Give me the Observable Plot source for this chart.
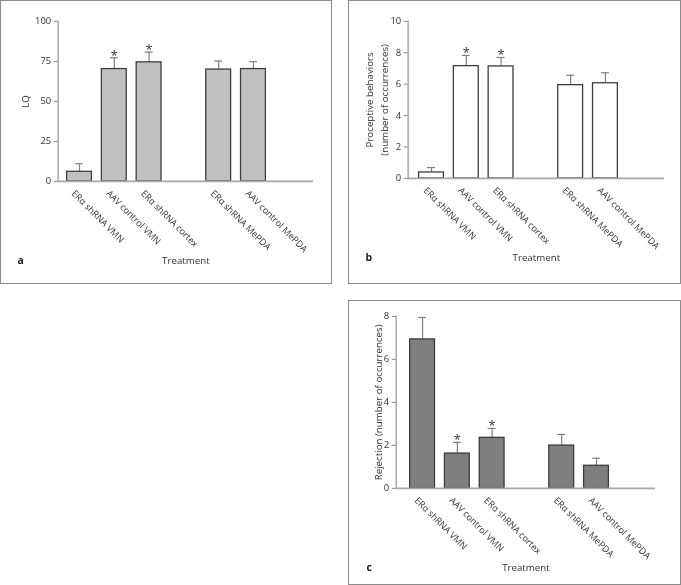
<!DOCTYPE html>
<html><head><meta charset="utf-8">
<script src="https://cdn.jsdelivr.net/npm/d3@7"></script>
<script src="https://cdn.jsdelivr.net/npm/@observablehq/plot@0.6"></script>
<style>
body{margin:0;background:#fff;font-family:"Open Sans",sans-serif;}
#root{position:relative;width:681px;height:585px;overflow:hidden;background:#fff;filter:grayscale(1);}
.panel{position:absolute;box-sizing:border-box;border:1.5px solid #8c8c8c;}
.panel svg{position:absolute;left:-1.5px;top:-1.5px;}
</style></head><body><div id="root"></div>
<script>
// ---- data ----
const categories = ["ERα shRNA VMN", "AAV control VMN", "ERα shRNA cortex", "ERα shRNA MePDA", "AAV control MePDA"];
const slots = [categories[0], categories[1], categories[2], "gap1", categories[3], categories[4], "gap2"];
const significant = [false, true, true, false, false];

const lqMean = [6, 70.2, 74.4, 69.9, 70.2];
const lqSem = [5, 7.1, 6.4, 5.3, 4.6];
const lqTicks = [0, 25, 50, 75, 100];

const proMean = [0.38, 7.15, 7.13, 5.94, 6.06];
const proSem = [0.31, 0.68, 0.57, 0.63, 0.67];
const proTicks = [0, 2, 4, 6, 8, 10];

const rejMean = [6.93, 1.62, 2.35, 1.99, 1.05];
const rejSem = [1.02, 0.52, 0.44, 0.52, 0.35];
const rejTicks = [0, 2, 4, 6, 8];

const FONT = "Open Sans";

function panel(cfg) {
  const rows = categories.map((c, i) => ({cat: c, mean: cfg.mean[i], top: cfg.mean[i] + cfg.sem[i], sig: significant[i]}));
  const chart = Plot.plot({
    width: cfg.width, height: cfg.height,
    marginLeft: cfg.mL, marginRight: cfg.mR, marginTop: cfg.mT, marginBottom: cfg.mB,
    style: {fontFamily: FONT, fontSize: "9.5px", color: "#222", background: "transparent", overflow: "visible"},
    x: {domain: slots, range: cfg.xRange, paddingInner: 0.3, paddingOuter: 0.15, axis: null},
    y: {domain: cfg.yDomain, axis: null},
    marks: [
      Plot.ruleX(rows, {x: "cat", y1: "mean", y2: "top", stroke: "#808080", strokeWidth: 1.2}),
      Plot.tickY(rows, {x: "cat", y: "top", stroke: "#808080", strokeWidth: 1.2, insetLeft: 8.5, insetRight: 8.5}),
      Plot.barY(rows, {x: "cat", y: "mean", fill: cfg.fill, stroke: "#3c3c3c", strokeWidth: 1.3}),
      Plot.frame({anchor: "left", stroke: "#a8a8a8", strokeWidth: 1.5}),
      Plot.ruleY([0], {stroke: "#a8a8a8", strokeWidth: 1.8}),
      Plot.axisY({ticks: cfg.ticks, tickSize: 4, tickPadding: 3, label: null, stroke: "#888", fontSize: 9.5, fill: "#333"}),
      Plot.text(rows.filter(d => d.sig), {x: "cat", y: "top", text: () => "*", lineAnchor: "bottom", dy: 2, fontSize: 13, fill: "#333"}),
      Plot.text(categories, {x: d => d, frameAnchor: "bottom", rotate: 45, textAnchor: "start", lineAnchor: "top", dx: -4, dy: 8, fill: "#333", fontSize: 9.2}),
      Plot.text([cfg.yLabel], {frameAnchor: "left", rotate: -90, textAnchor: "middle", lineAnchor: "middle", dx: cfg.yLabelDx, lineHeight: 1.5, fill: "#333", fontSize: 9.8}),
      Plot.text(["Treatment"], {frameAnchor: "bottom", textAnchor: "middle", lineAnchor: "middle", dy: 80, fill: "#333", fontSize: 9.8}),
      Plot.text([cfg.letter], {frameAnchor: "bottom-left", textAnchor: "start", lineAnchor: "middle", dx: cfg.letterDx, dy: 80, fontWeight: "bold", fontSize: 10.5, fill: "#222"})
    ]
  });
  const div = document.createElement("div");
  div.className = "panel";
  div.style.left = cfg.left + "px";
  div.style.top = cfg.top + "px";
  div.style.width = cfg.width + "px";
  div.style.height = cfg.height + "px";
  div.appendChild(chart);
  document.getElementById("root").appendChild(div);
}

panel({left: 0, top: 0, width: 332, height: 284, mL: 58, mR: 17, mT: 21, mB: 102,
  xRange: [60.25, 308.75], yDomain: [0, 100], ticks: lqTicks, mean: lqMean, sem: lqSem,
  fill: "#c0c0c0", yLabel: "LQ", yLabelDx: -34, letter: "a", letterDx: -41});

panel({left: 348, top: 0, width: 333, height: 284, mL: 60, mR: 15, mT: 21, mB: 105,
  xRange: [63.75, 312.25], yDomain: [0, 10], ticks: proTicks, mean: proMean, sem: proSem,
  fill: "#ffffff", yLabel: "Proceptive behaviors\n(number of occurrences)", yLabelDx: -32.5, letter: "b", letterDx: -43});

panel({left: 348, top: 300, width: 333, height: 285, mL: 48, mR: 24, mT: 16, mB: 96,
  xRange: [55.2, 304.2], yDomain: [0, 8], ticks: rejTicks, mean: rejMean, sem: rejSem,
  fill: "#7f7f7f", yLabel: "Rejection (number of occurrences)", yLabelDx: -19, letter: "c", letterDx: -30});
</script></body></html>
